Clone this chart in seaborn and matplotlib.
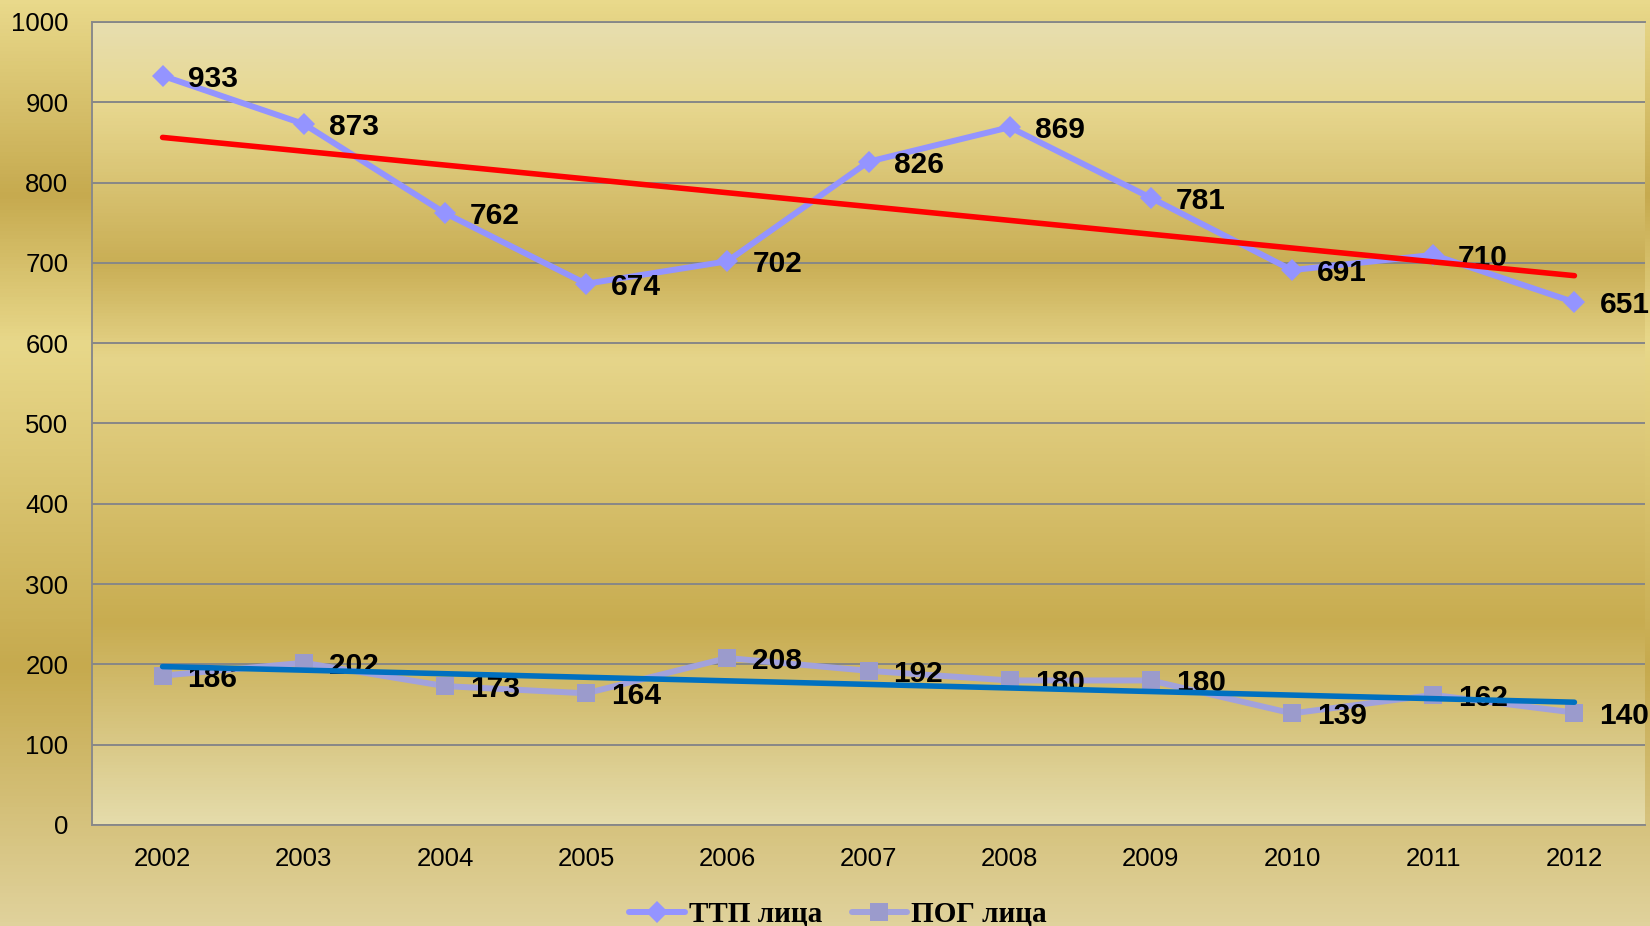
import numpy as np
import pandas as pd
import matplotlib.pyplot as plt
import seaborn as sns
from matplotlib.colors import LinearSegmentedColormap
from matplotlib.lines import Line2D

# Data
years = ['2002', '2003', '2004', '2005', '2006', '2007', '2008', '2009', '2010', '2011', '2012']
ttp = [933, 873, 762, 674, 702, 826, 869, 781, 691, 710, 651]
pog = [186, 202, 173, 164, 208, 192, 180, 180, 139, 162, 140]

df = pd.DataFrame({'pos': np.arange(len(years)), 'year': years, 'ttp': ttp, 'pog': pog})

sns.set_style('white')
plt.rcParams['font.family'] = ['Liberation Sans', 'DejaVu Sans']

fig = plt.figure(figsize=(16.5, 9.26), dpi=100)

# gold gradient behind everything
bg = fig.add_axes([0, 0, 1, 1], zorder=-10)
bg_cmap = LinearSegmentedColormap.from_list('figbg', [
    (0.0, '#e9d98b'), (0.21, '#c6aa4f'), (0.37, '#e8d88a'),
    (0.72, '#c6aa4e'), (1.0, '#e0d29c')])
bg.imshow(np.linspace(0, 1, 256).reshape(-1, 1), cmap=bg_cmap, aspect='auto',
          extent=[0, 1, 0, 1], origin='upper')
bg.set_axis_off()

ax = fig.add_axes([92 / 1650, 1 - 825 / 926, (1645 - 92) / 1650, (825 - 22) / 926])
ax.set_facecolor('none')
plot_cmap = LinearSegmentedColormap.from_list('plotbg', [
    (0.0, '#e7deb0'), (0.1, '#e8d890'), (0.3, '#c9ae55'), (0.42, '#e6d58a'),
    (0.75, '#c8ac50'), (1.0, '#e5dcab')])
ax.imshow(np.linspace(0, 1, 256).reshape(-1, 1), cmap=plot_cmap, aspect='auto',
          extent=[0, 1, 0, 1], origin='upper', transform=ax.transAxes, zorder=0)

# series
sns.lineplot(data=df, x='pos', y='ttp', ax=ax, color='#9494ff', linewidth=4.3,
             marker='D', markersize=11, markeredgewidth=0, zorder=3)
sns.lineplot(data=df, x='pos', y='pog', ax=ax, color='#a2a2dc', linewidth=4.3,
             marker='s', markersize=13, markerfacecolor='#9b9bcc', markeredgewidth=0, zorder=3)

# linear trend lines
for col, c in [('ttp', '#ff0000'), ('pog', '#0070c0')]:
    k, b = np.polyfit(df['pos'], df[col], 1)
    ax.plot(df['pos'], k * df['pos'] + b, color=c, linewidth=4, solid_capstyle='round', zorder=5)

# data labels
for col in ['ttp', 'pog']:
    for x, v in zip(df['pos'], df[col]):
        ax.annotate(str(v), (x, v), xytext=(18, 0), textcoords='offset points',
                    ha='left', va='center_baseline', fontsize=21.5, fontweight='bold',
                    color='black', zorder=4, annotation_clip=False)

ax.set_xlim(-0.5, len(years) - 0.5)
ax.set_ylim(0, 1000)
ax.set_xticks(df['pos'])
ax.set_xticklabels(years)
ax.set_yticks(range(0, 1001, 100))
ax.tick_params(axis='both', length=0, labelsize=18.5, colors='black')
ax.tick_params(axis='y', pad=17)
ax.tick_params(axis='x', pad=16)
ax.set_xlabel('')
ax.set_ylabel('')
ax.grid(axis='y', color='#878787', linewidth=1.4, zorder=1)
ax.set_axisbelow(False)
for side in ['left', 'top', 'bottom']:
    ax.spines[side].set_color('#8a8a8a')
    ax.spines[side].set_linewidth(1.4)
ax.spines['right'].set_visible(False)

handles = [
    Line2D([], [], color='#9494ff', linewidth=4.3, marker='D', markersize=11, markeredgewidth=0),
    Line2D([], [], color='#a2a2dc', linewidth=4.3, marker='s', markersize=13,
           markerfacecolor='#9b9bcc', markeredgewidth=0),
]
leg = fig.legend(handles, ['ТТП лица', 'ПОГ лица'], loc='center', bbox_to_anchor=(0.508, 0.012),
                 ncol=2, frameon=False, handlelength=1.9, columnspacing=1.0, handletextpad=0.15,
                 prop={'family': 'Liberation Serif', 'weight': 'bold', 'size': 21})
for t in leg.get_texts():
    t.set_color('black')

fig.savefig('out.png', dpi=100)
